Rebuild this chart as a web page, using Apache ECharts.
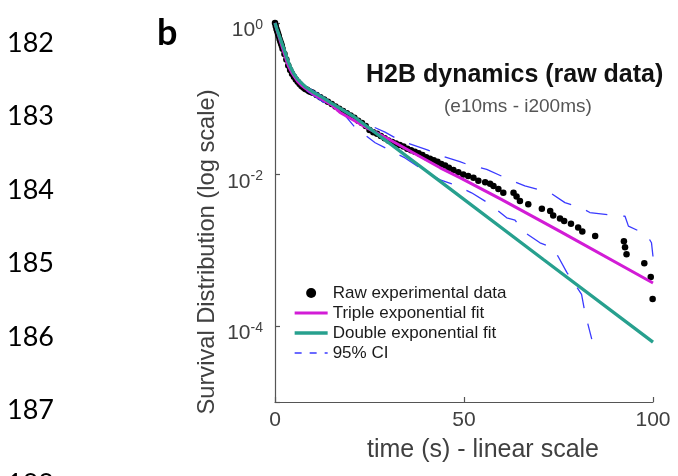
<!DOCTYPE html>
<html>
<head>
<meta charset="utf-8">
<script src="https://cdn.jsdelivr.net/npm/echarts@6/dist/echarts.min.js"></script>
<style>
html,body{margin:0;padding:0;background:#ffffff;}
#chart{width:678px;height:476px;}
</style>
</head>
<body>
<div id="chart"></div>
<script>
// ---------- text ----------
const lineNumbers = ['182', '183', '184', '185', '186', '187', '188'];
const panelLetter = 'b';
const titleText = 'H2B dynamics (raw data)';
const subtitleText = '(e10ms - i200ms)';
const xAxisName = 'time (s) - linear scale';
const yAxisName = 'Survival Distribution (log scale)';
const seriesNames = ['Raw experimental data', 'Triple exponential fit', 'Double exponential fit', '95% CI'];

// ---------- ticks ----------
const xTicks = [0, 50, 100];
const yTickExponents = [0, -2, -4];

// ---------- raw experimental data (time s, survival) ----------
const rawTime = [
  0, 0.2, 0.4, 0.6, 0.8, 1.0, 1.2, 1.4, 1.6, 1.8, 2.0,
  2.5, 3.0, 3.5, 4.0, 4.5, 5.0, 5.5, 6.0, 6.5, 7.0, 7.5, 8.0, 8.5, 9.0, 9.5, 10,
  11, 12, 13, 14, 15, 16, 17, 18, 19, 20, 21, 22, 23, 24, 25, 26, 27, 28, 29, 30,
  31, 32, 33, 34, 35, 36, 37, 38, 39, 40, 41, 42, 43, 44, 45,
  46, 47.2, 48.5, 49.8, 51.1, 52.5, 53.8, 55.6, 56.9, 57.8, 59.1, 60.4, 63.1, 63.9,
  64.8, 67, 70.6, 72.8, 73.6, 75.4, 76.5, 78.3, 80.2, 81.3, 84.7, 92.3, 92.6, 93.0,
  97.7, 99.4, 99.9
];
const rawSurvival = [
  1.0, 0.912, 0.832, 0.776, 0.724, 0.676, 0.617, 0.575, 0.537, 0.501, 0.457,
  0.389, 0.331, 0.275, 0.240, 0.214, 0.195, 0.180, 0.168, 0.157, 0.148, 0.141, 0.135, 0.132, 0.126, 0.123, 0.120,
  0.112, 0.105, 0.0977, 0.0912, 0.0851, 0.0794, 0.0741, 0.0692, 0.0646, 0.0603, 0.0562, 0.0513, 0.0479, 0.0437,
  0.0389, 0.0363, 0.0347, 0.0324, 0.0302, 0.0282,
  0.0269, 0.0257, 0.0245, 0.0234, 0.0219, 0.0209, 0.0200, 0.0191, 0.0182, 0.0170, 0.0162, 0.0155, 0.0148, 0.0138, 0.0132,
  0.0123, 0.0115, 0.0107, 0.0100, 0.00955, 0.00912, 0.00832, 0.00794, 0.00759, 0.00708, 0.00646, 0.00575, 0.00575, 0.00513,
  0.00447, 0.00407, 0.00355, 0.00331, 0.00288, 0.00263, 0.00245, 0.00224, 0.00200, 0.00178, 0.00155, 0.00132, 0.00110, 0.000891,
  0.000676, 0.000447, 0.000229
];

// ---------- triple exponential fit ----------
const tripleTime = [0, 0.5, 1, 1.5, 2, 2.5, 3, 3.5, 4, 4.5, 5, 6, 7, 8, 10, 12, 15, 17.2, 20, 25, 30, 43.7, 48.9, 60, 71.4, 75.4, 100];
const tripleSurvival = [1.0, 0.813, 0.676, 0.562, 0.468, 0.389, 0.324, 0.275, 0.245, 0.219, 0.200, 0.170, 0.151, 0.138, 0.117, 0.102, 0.0832, 0.0661, 0.0550, 0.0398, 0.0295, 0.0123, 0.00912, 0.00468, 0.00229, 0.00178, 0.000372];

// ---------- double exponential fit ----------
const doubleTime = [0, 0.5, 1, 1.5, 2, 2.5, 3, 3.5, 4, 4.5, 5, 6, 7, 8, 10, 12.4, 15, 17, 21, 43.7, 71, 100];
const doubleSurvival = [1.0, 0.832, 0.708, 0.603, 0.513, 0.437, 0.363, 0.309, 0.269, 0.240, 0.214, 0.182, 0.162, 0.145, 0.123, 0.105, 0.0871, 0.0759, 0.0575, 0.00813, 0.000759, 0.0000617];

// ---------- 95% confidence interval ----------
const ciUpperTime = [0, 2, 4, 6, 8, 12, 16, 20, 22.9, 29.1, 33.5, 40.1, 44.5, 48.9, 51.1, 56, 62.2, 66.1, 72.8, 76.7, 81.1, 83.3, 88.2, 92.6, 93.5, 98.3, 99.6, 100];
const ciUpperSurvival = [1.0, 0.537, 0.263, 0.186, 0.148, 0.112, 0.0832, 0.0631, 0.0501, 0.0363, 0.0275, 0.0214, 0.0174, 0.0148, 0.0135, 0.0117, 0.00851, 0.00708, 0.00575, 0.00427, 0.00363, 0.00316, 0.00295, 0.00282, 0.00209, 0.00162, 0.00126, 0.000832];
const ciLowerTime = [0, 2, 4, 6, 8, 12, 18.5, 21.2, 26.5, 31.7, 34.4, 41, 43.7, 47.2, 52, 56.9, 61.3, 63.5, 65.7, 70.1, 73.2, 74.9, 77.2, 79.4, 81.1, 82, 83.8];
const ciLowerSurvival = [1.0, 0.479, 0.240, 0.166, 0.132, 0.0955, 0.0603, 0.0417, 0.0263, 0.0195, 0.0166, 0.0100, 0.00851, 0.00741, 0.00575, 0.00407, 0.00269, 0.00251, 0.00178, 0.00126, 0.00110, 0.000832, 0.000513, 0.000355, 0.000263, 0.000151, 0.0000676];

// ---------- build ----------
function pairs(xs, ys) { return xs.map(function (x, i) { return [x, ys[i]]; }); }

const FONT = '"Liberation Sans", Arial, Helvetica, sans-serif';
const AXIS_COLOR = '#555555';
const TEXT_COLOR = '#404040';
const MAGENTA = '#d21cd6';
const TEAL = '#27a08e';
const BLUE = '#3a3aff';

const chart = echarts.init(document.getElementById('chart'), null, { renderer: 'canvas' });

const graphics = lineNumbers.map(function (s, i) {
  return {
    type: 'text', silent: true, x: 7, y: 43 + i * 73.5,
    style: { text: s, fontSize: 27, fontFamily: 'Lato, "Open Sans", sans-serif', fill: '#000000', align: 'left', verticalAlign: 'middle' }
  };
});
graphics.push({
  type: 'text', silent: true, x: 157, y: 33.5,
  style: { text: panelLetter, fontSize: 36, fontWeight: 'bold', fontFamily: 'Lato, "Open Sans", sans-serif', fill: '#000000', align: 'left', verticalAlign: 'middle' }
});
graphics.push({
  type: 'text', silent: true, x: 207, y: 252, rotation: Math.PI / 2,
  style: { text: yAxisName, fontSize: 23.7, fontFamily: FONT, fill: TEXT_COLOR, align: 'center', verticalAlign: 'middle' }
});

const hideLegendSymbol = { opacity: 0 };

const option = {
  animation: false,
  backgroundColor: '#ffffff',
  title: [
    { text: titleText, left: 366, top: 62.5, padding: 0,
      textStyle: { fontSize: 25, fontWeight: 'bold', color: '#111111', fontFamily: FONT } },
    { text: subtitleText, left: 444, top: 97.5, padding: 0,
      textStyle: { fontSize: 19, fontWeight: 'normal', color: '#555555', fontFamily: FONT } }
  ],
  grid: { left: 275, top: 23, width: 378, height: 379, containLabel: false },
  legend: {
    orient: 'vertical', left: 293, top: 283, padding: 0,
    itemWidth: 33, itemHeight: 10, itemGap: 0, selectedMode: false,
    textStyle: { fontSize: 17, lineHeight: 20, color: '#1a1a1a', fontFamily: FONT },
    data: [
      { name: seriesNames[0], icon: 'circle', itemStyle: { opacity: 1 } },
      { name: seriesNames[1], itemStyle: hideLegendSymbol, lineStyle: { width: 3 } },
      { name: seriesNames[2], itemStyle: hideLegendSymbol, lineStyle: { width: 3.3 } },
      { name: seriesNames[3], itemStyle: hideLegendSymbol, lineStyle: { type: [7, 8], width: 1.6 } }
    ]
  },
  xAxis: {
    type: 'value', min: xTicks[0], max: xTicks[xTicks.length - 1], interval: xTicks[1] - xTicks[0],
    axisLine: { show: true, onZero: false, lineStyle: { color: AXIS_COLOR, width: 1.2 } },
    axisTick: { show: true, inside: true, length: 5, lineStyle: { color: AXIS_COLOR, width: 1.2 } },
    axisLabel: { fontSize: 21, color: TEXT_COLOR, margin: 8, fontFamily: FONT },
    splitLine: { show: false },
    name: xAxisName, nameLocation: 'middle', nameGap: 36,
    nameTextStyle: { fontSize: 25, color: TEXT_COLOR, fontFamily: FONT, padding: [0, 0, 0, 38] }
  },
  yAxis: [
    {
      type: 'log', logBase: 10, min: 1e-5, max: 1, interval: 1,
      axisLine: { show: true, onZero: false, lineStyle: { color: AXIS_COLOR, width: 1.2 } },
      axisTick: { show: false },
      splitLine: { show: false },
      minorTick: { show: false },
      axisLabel: {
        margin: 12,
        formatter: function (value) {
          const e = Math.round(Math.log10(value));
          return yTickExponents.indexOf(e) >= 0 ? '{b|10}{s|' + e + '}' : '';
        },
        rich: {
          b: { fontSize: 21, color: TEXT_COLOR, fontFamily: FONT, padding: [15, 0, 0, 0] },
          s: { fontSize: 14, color: TEXT_COLOR, fontFamily: FONT, padding: [4, 0, 0, 0] }
        }
      }
    },
    {
      // tick marks only, at the labelled decades (exponent axis, 0 at top)
      type: 'value', inverse: true, position: 'left',
      min: -yTickExponents[0], max: 5, interval: yTickExponents[0] - yTickExponents[1],
      axisLine: { show: false },
      axisTick: { show: true, inside: true, length: 5, lineStyle: { color: AXIS_COLOR, width: 1.2 } },
      axisLabel: { show: false },
      splitLine: { show: false }
    }
  ],
  series: [
    {
      name: seriesNames[0], type: 'scatter', yAxisIndex: 0, clip: false,
      data: pairs(rawTime, rawSurvival),
      symbol: 'circle', symbolSize: 6.5,
      itemStyle: { color: '#000000', opacity: 1 }, z: 2
    },
    {
      name: seriesNames[3], type: 'line', yAxisIndex: 0,
      data: pairs(ciUpperTime, ciUpperSurvival),
      symbol: 'none', showSymbol: false,
      lineStyle: { color: BLUE, width: 1.3, type: [22, 16] },
      itemStyle: { color: BLUE }, z: 3
    },
    {
      name: seriesNames[3], type: 'line', yAxisIndex: 0,
      data: pairs(ciLowerTime, ciLowerSurvival),
      symbol: 'none', showSymbol: false,
      lineStyle: { color: BLUE, width: 1.3, type: [22, 16] },
      itemStyle: { color: BLUE }, z: 3
    },
    {
      name: seriesNames[1], type: 'line', yAxisIndex: 0,
      data: pairs(tripleTime, tripleSurvival),
      symbol: 'none', showSymbol: false,
      lineStyle: { color: MAGENTA, width: 3 },
      itemStyle: { color: MAGENTA }, z: 4
    },
    {
      name: seriesNames[2], type: 'line', yAxisIndex: 0,
      data: pairs(doubleTime, doubleSurvival),
      symbol: 'none', showSymbol: false,
      lineStyle: { color: TEAL, width: 3.3 },
      itemStyle: { color: TEAL }, z: 5
    }
  ],
  graphic: graphics
};

chart.setOption(option);
</script>
</body>
</html>
